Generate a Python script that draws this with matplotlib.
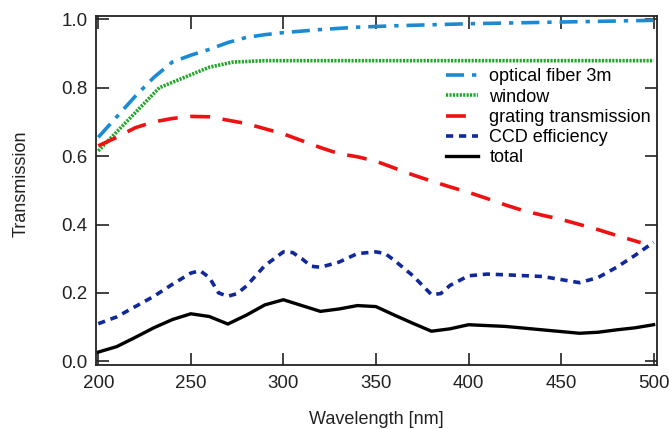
import matplotlib
matplotlib.use("Agg")
import matplotlib.pyplot as plt

plt.rcParams['font.family'] = ['Liberation Sans', 'DejaVu Sans']

# optical fiber 3m
fiber_wl = [200, 210, 220, 230, 240, 250, 260, 270, 280, 290, 300, 320, 340, 360, 380, 400, 450, 500]
fiber_t = [0.655, 0.715, 0.775, 0.83, 0.875, 0.895, 0.912, 0.932, 0.947, 0.955, 0.961, 0.97, 0.977,
           0.981, 0.984, 0.987, 0.992, 0.997]

# window
window_wl = [200, 233, 260, 273, 290, 500]
window_t = [0.615, 0.80, 0.86, 0.875, 0.879, 0.879]

# grating transmission
grating_wl = [200, 210, 220, 230, 240, 250, 260, 270, 280, 290, 300, 310, 320, 330, 340, 350,
              360, 370, 380, 390, 400, 410, 420, 430, 440, 450, 460, 470, 480, 490, 493]
grating_t = [0.63, 0.655, 0.683, 0.70, 0.71, 0.716, 0.715, 0.705, 0.695, 0.68, 0.665, 0.645, 0.625,
             0.607, 0.598, 0.585, 0.565, 0.545, 0.527, 0.51, 0.494, 0.476, 0.457, 0.44, 0.427,
             0.415, 0.40, 0.385, 0.368, 0.352, 0.347]

# CCD efficiency
ccd_wl = [200, 210, 220, 230, 240, 250, 255, 260, 265, 270, 275, 280, 290, 300, 305, 310, 315,
          320, 330, 340, 350, 355, 360, 370, 380, 385, 390, 400, 410, 420, 440, 460, 470, 480,
          490, 500]
ccd_t = [0.11, 0.13, 0.16, 0.19, 0.225, 0.258, 0.265, 0.245, 0.2, 0.19, 0.198, 0.22, 0.28, 0.32,
         0.318, 0.3, 0.278, 0.275, 0.29, 0.315, 0.32, 0.315, 0.295, 0.25, 0.195, 0.198, 0.222,
         0.25, 0.255, 0.253, 0.248, 0.23, 0.245, 0.275, 0.31, 0.348]

# total
total_wl = [200, 210, 220, 230, 240, 250, 260, 270, 280, 290, 300, 310, 320, 330, 340, 350,
            360, 370, 380, 390, 400, 420, 440, 460, 470, 480, 490, 500]
total_t = [0.027, 0.043, 0.07, 0.098, 0.122, 0.139, 0.131, 0.109, 0.135, 0.165, 0.18, 0.163,
           0.146, 0.153, 0.163, 0.16, 0.135, 0.111, 0.088, 0.095, 0.107, 0.102, 0.092, 0.082,
           0.085, 0.092, 0.098, 0.107]

fig = plt.figure(figsize=(6.69, 4.29), dpi=100)
ax = fig.add_axes([0.143, 0.149, 0.839, 0.814])

ax.plot(fiber_wl, fiber_t, color='#1a8ad4', lw=2.6, linestyle=(0, (5, 2.2, 1.2, 2.2)),
        label='optical fiber 3m')
ax.plot(window_wl, window_t, color='#22a52a', lw=2.6, linestyle=(0, (0.6, 0.35)),
        label='window')
ax.plot(grating_wl, grating_t, color='#ee1111', lw=2.6, linestyle=(0, (5.5, 3.5)),
        label='grating transmission')
ax.plot(ccd_wl, ccd_t, color='#10289a', lw=2.6, linestyle=(0, (2, 1.6)),
        label='CCD efficiency')
ax.plot(total_wl, total_t, color='black', lw=2.4, label='total')

ax.set_xlim(198.6, 501.8)
ax.set_ylim(-0.011, 1.01)
ax.set_xticks([200, 250, 300, 350, 400, 450, 500])
ax.set_yticks([0.0, 0.2, 0.4, 0.6, 0.8, 1.0])
ax.set_yticklabels(['0.0', '0.2', '0.4', '0.6', '0.8', '1.0'])
ax.tick_params(direction='in', length=9, width=1.2, top=True, right=True,
               labelsize=13.5, colors='#222222')
ax.tick_params(axis='x', pad=7)
ax.tick_params(axis='y', pad=6)
for sp in ax.spines.values():
    sp.set_linewidth(1.3)
    sp.set_color('#222222')

ax.set_xlabel('Wavelength [nm]', fontsize=13, labelpad=13.5, color='#222222')
ax.set_ylabel('Transmission', fontsize=13, labelpad=23, color='#222222')
ax.yaxis.label.set_y(0.52)

ax.legend(loc='upper right', bbox_to_anchor=(1.012, 0.886), frameon=False, fontsize=13,
          handlelength=1.75, handletextpad=0.65, labelspacing=0.18, borderpad=0.2)

fig.savefig('out.png', dpi=100)
